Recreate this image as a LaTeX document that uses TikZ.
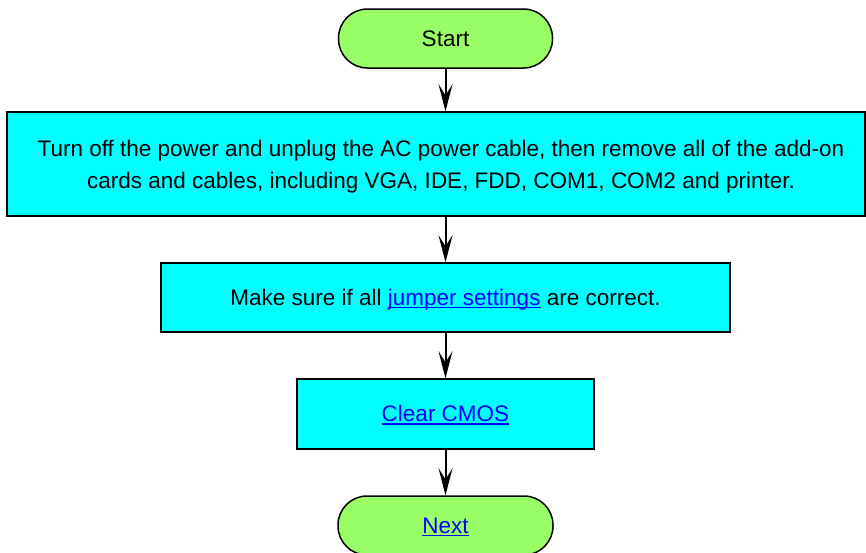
\documentclass[tikz,border=0pt]{standalone}
\usepackage{fontspec}
\setmainfont{Liberation Sans}
\usetikzlibrary{arrows.meta}
\definecolor{termgreen}{RGB}{153,255,102}
\definecolor{boxcyan}{RGB}{0,255,255}
\newcommand{\lnk}[1]{\textcolor{blue}{\setbox0\hbox{#1}\rlap{\rule[-2.8pt]{\wd0}{1.5pt}}\box0}}
\begin{document}
\begin{tikzpicture}[x=1pt,y=1pt,
  base/.style={draw=black, line width=1.5pt, inner sep=0pt, align=center,
    font=\fontsize{22.5}{32}\selectfont},
  oneline/.style={text height=20.5pt, text depth=5pt},
  term/.style={base, oneline, fill=termgreen, rounded corners=29pt},
  stepbox/.style={base, fill=boxcyan},
  flow/.style={line width=2pt, -{Stealth[length=27pt,width=14pt,inset=11pt]}}]
\useasboundingbox (0,0) rectangle (866,-552);
\clip (0,0) rectangle (866,-552);
\node[term, minimum width=214pt, minimum height=59pt] (start) at (445.5,-38.5) {Start};
\node[stepbox, minimum width=858pt, minimum height=104pt] (b1) at (436,-164)
  {\hspace*{10pt}\rule{0pt}{22.5pt}Turn off the power and unplug the AC power cable, then remove all of the add-on\\
   \hspace*{10pt}cards and cables, including VGA, IDE, FDD, COM1, COM2 and printer.};
\node[stepbox, oneline, minimum width=569pt, minimum height=69pt] (b2) at (445.5,-297.5)
  {Make sure if all \lnk{jumper settings} are correct.};
\node[stepbox, oneline, minimum width=297pt, minimum height=70pt] (b3) at (445.5,-414)
  {\lnk{Clear CMOS}};
\node[term, minimum width=215pt, minimum height=59pt] (next) at (445.5,-525.5)
  {\lnk{Next}};
\draw[flow] (start.south) -- (start.south |- b1.north);
\draw[flow] (b2.north |- b1.south) -- (b2.north);
\draw[flow] (b2.south) -- (b3.north);
\draw[flow] (b3.south) -- (next.north);
\end{tikzpicture}
\end{document}
